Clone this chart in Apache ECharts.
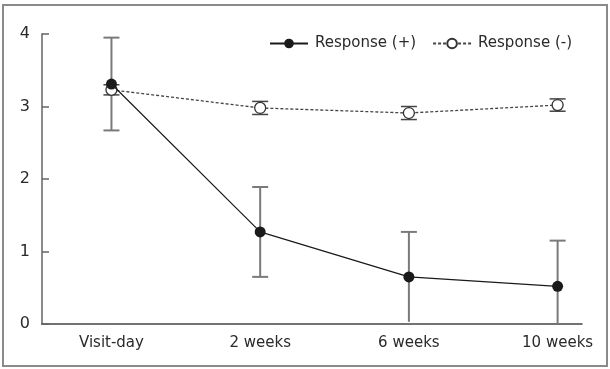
<!DOCTYPE html>
<html>
<head>
<meta charset="utf-8">
<script src="https://cdn.jsdelivr.net/npm/echarts@6/dist/echarts.min.js"></script>
<style>html,body{margin:0;padding:0;background:#fff;}#c{width:610px;height:369px;}</style>
</head>
<body>
<div id="c"></div>
<script>
const categories = ['Visit-day', '2 weeks', '6 weeks', '10 weeks'];
const yTicks = [0, 1, 2, 3, 4];
const plusMean = [3.31, 1.27, 0.65, 0.52];
const plusErr = [0.64, 0.62, 0.62, 0.63];
const minusMean = [3.23, 2.98, 2.91, 3.02];
const minusErr = [0.07, 0.09, 0.09, 0.085];

const FONT = 'DejaVu Sans';
const idx = categories.map((c, i) => i);
const toPts = arr => arr.map((v, i) => [i, v]);
const toErr = (m, e) => m.map((v, i) => [i, v - e[i], v + e[i]]);

function errRender(capHalf, color, width) {
  return function (params, api) {
    const x = api.value(0);
    const loVal = api.value(1);
    const lo = api.coord([x, Math.max(0, loVal)]);
    const hi = api.coord([x, api.value(2)]);
    const st = { stroke: color, lineWidth: width };
    const children = [
      { type: 'line', shape: { x1: lo[0], y1: lo[1], x2: hi[0], y2: hi[1] }, style: st },
      { type: 'line', shape: { x1: hi[0] - capHalf, y1: hi[1], x2: hi[0] + capHalf, y2: hi[1] }, style: st }
    ];
    if (loVal > 0.1) {
      children.push({ type: 'line', shape: { x1: lo[0] - capHalf, y1: lo[1], x2: lo[0] + capHalf, y2: lo[1] }, style: st });
    }
    return { type: 'group', children };
  };
}

const chart = echarts.init(document.getElementById('c'), null, { renderer: 'canvas' });
chart.setOption({
  animation: false,
  backgroundColor: '#fff',
  textStyle: { fontFamily: FONT },
  graphic: [{
    type: 'rect', shape: { x: 3, y: 5, width: 604, height: 361 },
    style: { fill: 'none', stroke: '#8a8a8a', lineWidth: 2 }, z: -10, silent: true
  }],
  grid: { left: 42, right: 28, top: 34, bottom: 45, containLabel: false },
  legend: {
    top: 31, right: 33, itemWidth: 38, itemHeight: 12, itemGap: 16,
    textStyle: { fontFamily: FONT, fontSize: 15, color: '#2a2a2a', padding: [0, 0, 0, 2] },
    data: ['Response (+)', 'Response (-)']
  },
  xAxis: {
    type: 'value', min: -0.467, max: 3.164,
    splitLine: { show: false },
    axisLine: { show: true, onZero: false, lineStyle: { color: '#444', width: 1.5 } },
    axisTick: { show: false },
    axisLabel: {
      customValues: idx, margin: 12, color: '#2a2a2a', fontSize: 15, fontFamily: FONT,
      formatter: v => categories[Math.round(v)] || ''
    }
  },
  yAxis: {
    type: 'value', min: 0, max: 4, interval: 1,
    splitLine: { show: false },
    axisLine: { show: true, onZero: false, lineStyle: { color: '#8a8a8a', width: 2 } },
    axisTick: { show: true, inside: true, length: 7, lineStyle: { color: '#666', width: 1.5 } },
    axisLabel: {
      margin: 12, color: '#2a2a2a', fontSize: 16, fontFamily: FONT,
      formatter: v => yTicks.includes(v) ? String(v) : ''
    }
  },
  series: [
    {
      type: 'custom', name: 'errMinus', renderItem: errRender(8, '#444', 1.5),
      data: toErr(minusMean, minusErr), z: 2, silent: true
    },
    {
      type: 'custom', name: 'errPlus', renderItem: errRender(8, '#7a7a7a', 2),
      data: toErr(plusMean, plusErr), z: 2, silent: true
    },
    {
      type: 'line', name: 'Response (-)', data: toPts(minusMean), z: 3,
      symbol: 'circle', symbolSize: 11,
      itemStyle: { color: '#fff', borderColor: '#333', borderWidth: 1.3 },
      lineStyle: { color: '#444', width: 1.3, type: [3, 2] }
    },
    {
      type: 'line', name: 'Response (+)', data: toPts(plusMean), z: 4,
      symbol: 'circle', symbolSize: 11,
      itemStyle: { color: '#1a1a1a', borderColor: '#1a1a1a', borderWidth: 0 },
      lineStyle: { color: '#1a1a1a', width: 1.2 }
    }
  ]
});
</script>
</body>
</html>
